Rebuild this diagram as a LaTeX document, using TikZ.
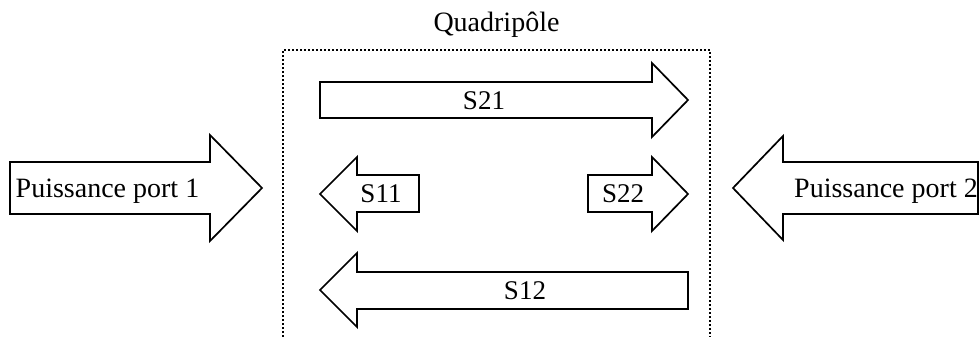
\documentclass[tikz,border=0pt]{standalone}
\usepackage{fontspec}
\setmainfont{Liberation Serif}
\usepackage{tikz}
\usetikzlibrary{positioning}

\tikzset{
  fatarrow/.style={draw=black,line width=1.7pt,fill=white,line join=miter},
  biglabel/.style={anchor=base,inner sep=0pt,font=\fontsize{28}{32}\selectfont},
  slabel/.style={anchor=base,inner sep=0pt,font=\fontsize{27}{31}\selectfont},
  quadbox/.style={draw=black,line width=2pt,dotted}
}

\begin{document}
\begin{tikzpicture}[x=1pt,y=-1pt]
\useasboundingbox (0,0) rectangle (979,337);
% the quadripole (box open at the bottom)
\draw[quadbox] (283,337) -- (283,50) -- (710,50) -- (710,337);
\node[biglabel] (quad) at (496.5,32) {Quadripôle};
% incoming power
\draw[fatarrow] (10,162) -- (210,162) -- (210,135) -- (262,188) -- (210,241) -- (210,214) -- (10,214) -- cycle;
\node[biglabel] (port1) at (107.5,197) {Puissance port 1};
\draw[fatarrow] (978,162) -- (783,162) -- (783,136) -- (733,188) -- (783,240) -- (783,214) -- (978,214) -- cycle;
\node[biglabel] (port2) at (886,197) {Puissance port 2};
% S parameters
\draw[fatarrow] (320,82) -- (652,82) -- (652,63) -- (688,100) -- (652,137) -- (652,118) -- (320,118) -- cycle;
\node[slabel] (s21) at (484,109) {S21};
\draw[fatarrow] (419,175) -- (357,175) -- (357,157) -- (320,194) -- (357,231) -- (357,212) -- (419,212) -- cycle;
\node[slabel] (s11) at (381,202) {S11};
\draw[fatarrow] (588,175) -- (652,175) -- (652,157) -- (688,194) -- (652,231) -- (652,212) -- (588,212) -- cycle;
\node[slabel] (s22) at (623,202) {S22};
\draw[fatarrow] (688,272) -- (357,272) -- (357,253) -- (320,290) -- (357,327) -- (357,309) -- (688,309) -- cycle;
\node[slabel] (s12) at (525,299) {S12};
\end{tikzpicture}
\end{document}
